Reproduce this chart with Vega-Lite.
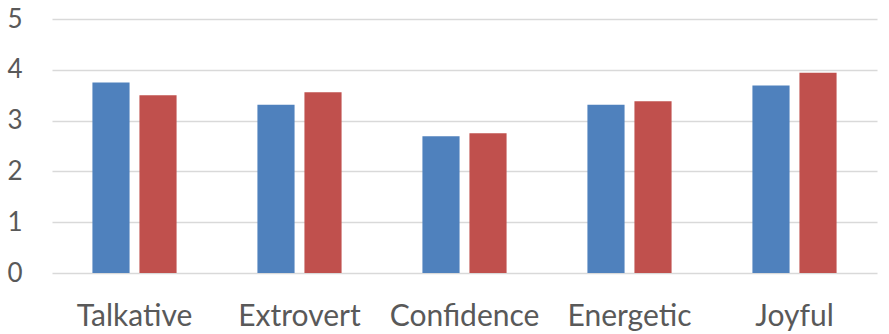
{
  "$schema": "https://vega.github.io/schema/vega-lite/v6.json",
  "width": 825,
  "height": 254,
  "autosize": {"type": "none"},
  "padding": {"left": 52, "top": 19, "right": 12, "bottom": 61},
  "background": "white",
  "data": {
    "values": [
      {"trait": "Talkative", "series": "Series 1", "score": 3.75},
      {"trait": "Talkative", "series": "Series 2", "score": 3.5},
      {"trait": "Extrovert", "series": "Series 1", "score": 3.31},
      {"trait": "Extrovert", "series": "Series 2", "score": 3.56},
      {"trait": "Confidence", "series": "Series 1", "score": 2.69},
      {"trait": "Confidence", "series": "Series 2", "score": 2.75},
      {"trait": "Energetic", "series": "Series 1", "score": 3.31},
      {"trait": "Energetic", "series": "Series 2", "score": 3.38},
      {"trait": "Joyful", "series": "Series 1", "score": 3.69},
      {"trait": "Joyful", "series": "Series 2", "score": 3.94}
    ]
  },
  "mark": {"type": "bar"},
  "encoding": {
    "x": {
      "field": "trait",
      "type": "nominal",
      "sort": null,
      "scale": {"paddingInner": 0.49, "paddingOuter": 0.245},
      "axis": {
        "title": null,
        "labelAngle": 0,
        "ticks": false,
        "domain": false,
        "labelFont": "Lato",
        "labelFontSize": 30,
        "labelColor": "#595959",
        "labelBaseline": "alphabetic",
        "labelPadding": 52
      }
    },
    "xOffset": {
      "field": "series",
      "type": "nominal",
      "scale": {"paddingInner": 0.21, "paddingOuter": 0}
    },
    "y": {
      "field": "score",
      "type": "quantitative",
      "scale": {"domain": [0, 5], "nice": false},
      "axis": {
        "title": null,
        "values": [0, 1, 2, 3, 4, 5],
        "ticks": false,
        "domain": false,
        "gridColor": "#d9d9d9",
        "gridWidth": 1.5,
        "labelFont": "Lato",
        "labelFontSize": 26,
        "labelColor": "#595959",
        "labelPadding": 30
      }
    },
    "color": {
      "field": "series",
      "type": "nominal",
      "scale": {"range": ["#4f81bd", "#c0504d"]},
      "legend": null
    }
  },
  "config": {
    "view": {"stroke": null}
  }
}
